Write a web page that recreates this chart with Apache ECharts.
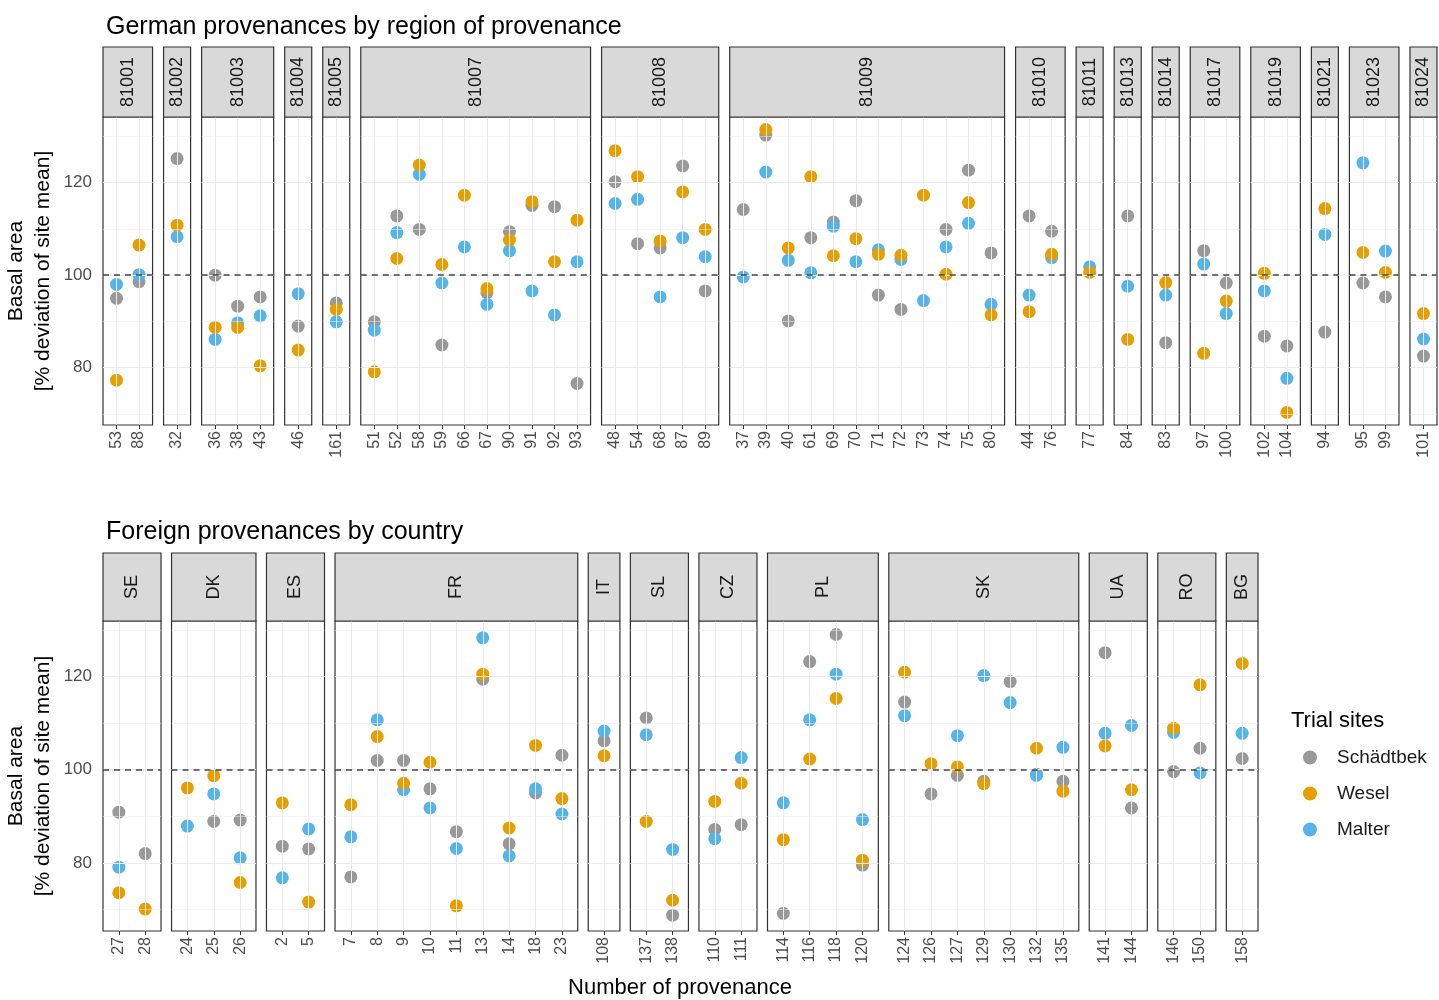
<!DOCTYPE html>
<html>
<head>
<meta charset="utf-8">
<title>Basal area by provenance</title>
<script src="https://cdn.jsdelivr.net/npm/echarts@6.0.0/dist/echarts.min.js"></script>
<style>
  html, body { margin: 0; padding: 0; background: #fff; }
  #chart { width: 1439px; height: 1000px; }
</style>
</head>
<body>
<div id="chart"></div>
<script>
// ---- data: German provenances (top) ----
const topFacets = ['81001', '81002', '81003', '81004', '81005', '81007', '81008', '81009', '81010',
  '81011', '81013', '81014', '81017', '81019', '81021', '81023', '81024'];
const topCats = [
  ['53', '88'], ['32'], ['36', '38', '43'], ['46'], ['161'],
  ['51', '52', '58', '59', '66', '67', '90', '91', '92', '93'],
  ['48', '54', '68', '87', '89'],
  ['37', '39', '40', '61', '69', '70', '71', '72', '73', '74', '75', '80'],
  ['44', '76'], ['77'], ['84'], ['83'], ['97', '100'], ['102', '104'], ['94'], ['95', '99'], ['101']
];
const topSchaedtbek = [
  [95.0, 98.6], [125.2], [100.0, 93.3, 95.3], [89.0], [94.0],
  [89.9, 112.8, 109.9, 84.9, null, 96.2, 109.4, 115.1, 114.8, 76.6],
  [120.2, 106.8, 105.9, 123.6, 96.6],
  [114.2, 130.3, 90.1, 108.1, 111.5, 116.1, 95.7, 92.6, null, 109.9, 122.7, 104.8],
  [112.8, 109.5], [null], [112.8], [85.4], [105.3, 98.3], [86.8, 84.7], [87.7], [98.3, 95.3], [82.5]
];
const topWesel = [
  [77.3, 106.5], [110.8], [88.7, 88.7, 80.4], [83.8], [92.6],
  [79.1, 103.6, 123.8, 102.3, 117.3, 97.1, 107.6, 115.9, 102.9, 111.9],
  [126.9, 121.3, 107.4, 118.0, 109.9],
  [null, 131.5, 105.9, 121.3, 104.2, 107.9, 104.5, 104.3, 117.3, 100.2, 115.7, 91.4],
  [92.1, 104.5], [100.6], [86.1], [98.4], [83.1, 94.4], [100.4, 70.3], [114.4], [104.9, 100.6], [91.7]
];
const topMalter = [
  [98.0, 100.1], [108.3], [86.1, 89.7, 91.2], [96.0], [89.9],
  [88.1, 109.2, 121.8, 98.3, 106.1, 93.7, 105.3, 96.6, 91.4, 102.9],
  [115.5, 116.4, 95.3, 108.1, 104.0],
  [99.6, 122.3, 103.2, 100.5, 110.6, 102.9, 105.5, 103.4, 94.5, 106.1, 111.2, 93.7],
  [95.7, 103.8], [101.8], [97.6], [95.7], [102.4, 91.7], [96.6, 77.7], [108.8], [124.3, 105.2], [86.2]
];

// ---- data: foreign provenances (bottom) ----
const botFacets = ['SE', 'DK', 'ES', 'FR', 'IT', 'SL', 'CZ', 'PL', 'SK', 'UA', 'RO', 'BG'];
const botCats = [
  ['27', '28'], ['24', '25', '26'], ['2', '5'],
  ['7', '8', '9', '10', '11', '13', '14', '18', '23'],
  ['108'], ['137', '138'], ['110', '111'], ['114', '116', '118', '120'],
  ['124', '126', '127', '129', '130', '132', '135'],
  ['141', '144'], ['146', '150'], ['158']
];
const botSchaedtbek = [
  [90.9, 82.0], [null, 88.9, 89.2], [83.6, 83.0],
  [77.0, 102.0, 102.0, 95.9, 86.7, 119.4, 84.1, 95.0, 103.1],
  [106.2], [111.1, 68.8], [87.2, 88.2], [69.2, 123.2, 129.0, 79.5],
  [114.5, 94.8, 98.8, 97.5, 118.9, 99.0, 97.5],
  [125.1, 91.8], [99.6, 104.6], [102.4]
];
const botWesel = [
  [73.6, 70.1], [96.1, 98.7, 75.8], [92.9, 71.6],
  [92.5, 107.1, 97.1, 101.6, 70.8, 120.5, 87.5, 105.2, 93.8],
  [103.0], [88.9, 72.0], [93.2, 97.1], [85.0, 102.3, 115.3, 80.6],
  [120.9, 101.3, 100.6, 97.0, null, 104.6, 95.4],
  [105.1, 95.7], [108.9, 118.2], [122.8]
];
const botMalter = [
  [79.1, null], [87.9, 94.8, 81.1], [76.8, 87.3],
  [85.6, 110.7, 95.7, 91.8, 83.1, 128.3, 81.5, 95.9, 90.5],
  [108.3], [107.5, 82.9], [85.2, 102.6], [92.9, 110.7, 120.5, 89.3],
  [111.6, null, 107.3, 120.2, 114.4, 98.8, 104.8],
  [107.8, 109.5], [108.0, 99.3], [107.8]
];

const siteNames = ['Schädtbek', 'Wesel', 'Malter'];
const yTicks = [80, 100, 120];
const yMinor = [70, 90, 110, 130];

// ---- styling ----
const FONT = '"Liberation Sans", Arial, sans-serif';
const siteColors = { 'Schädtbek': '#999999', 'Wesel': '#E69F00', 'Malter': '#56B4E9' };
const drawOrder = ['Schädtbek', 'Malter', 'Wesel'];

const chart = echarts.init(document.getElementById('chart'));

const option = {
  animation: false,
  backgroundColor: '#fff',
  textStyle: { fontFamily: FONT },
  title: [
    { text: 'German provenances by region of provenance', left: 101, top: 10,
      textStyle: { fontSize: 25, fontWeight: 'normal', color: '#000', fontFamily: FONT } },
    { text: 'Foreign provenances by country', left: 101, top: 515,
      textStyle: { fontSize: 25, fontWeight: 'normal', color: '#000', fontFamily: FONT } }
  ],
  legend: {
    data: siteNames,
    orient: 'vertical',
    left: 1298, top: 743,
    itemWidth: 14, itemHeight: 14, itemGap: 17,
    icon: 'circle',
    textStyle: { fontSize: 19, color: '#1A1A1A', fontFamily: FONT, padding: [0, 0, 0, 15] }
  },
  grid: [], xAxis: [], yAxis: [], series: [],
  graphic: [
    { type: 'text', left: 1291, top: 710,
      style: { text: 'Trial sites', fill: '#000', font: '22px ' + FONT } },
    { type: 'text', x: 680, y: 988,
      style: { text: 'Number of provenance', fill: '#000', font: '22px ' + FONT,
        textAlign: 'center', textVerticalAlign: 'middle' } }
  ]
};

function buildPanel(p) {
  const units = p.cats.map(c => c.length + 0.2);
  const step = (p.right - p.left - p.gap * (p.cats.length - 1)) / units.reduce((a, b) => a + b, 0);
  let x = p.left;
  p.cats.forEach((cats, f) => {
    const w = units[f] * step;
    const gi = option.grid.length;
    const idx = cats.map((c, i) => i);
    option.grid.push({
      left: x, top: p.plotTop, width: w, height: p.plotBottom - p.plotTop,
      show: true, borderColor: '#333', borderWidth: 1.2, backgroundColor: '#fff'
    });
    option.xAxis.push({
      type: 'value', gridIndex: gi, min: -0.6, max: cats.length - 0.4,
      axisLine: { show: false },
      splitLine: { show: false },
      axisTick: { show: true, customValues: idx, length: 4, lineStyle: { color: '#333' } },
      axisLabel: {
        show: true, customValues: idx, rotate: 90, margin: 6,
        fontSize: 16, color: '#4D4D4D', fontFamily: FONT,
        formatter: v => cats[Math.round(v)]
      }
    });
    const first = f === 0;
    option.yAxis.push({
      type: 'value', gridIndex: gi, min: p.yMin, max: p.yMax,
      axisLine: { show: false },
      splitLine: { show: false },
      axisTick: { show: first, customValues: yTicks, length: 4, lineStyle: { color: '#333' } },
      axisLabel: { show: first, customValues: yTicks, fontSize: 17, color: '#4D4D4D', margin: 11, fontFamily: FONT },
      name: first ? 'Basal area\n[% deviation of site mean]' : '',
      nameLocation: 'middle', nameRotate: 90, nameGap: 46,
      nameTextStyle: { fontSize: 21, lineHeight: 27, color: '#000', fontFamily: FONT }
    });
    // panel grid lines
    option.series.push({
      type: 'scatter', xAxisIndex: gi, yAxisIndex: gi, data: [], z: 1, silent: true,
      markLine: {
        silent: true, symbol: ['none', 'none'], label: { show: false },
        lineStyle: { color: '#EBEBEB', width: 1, type: 'solid' },
        data: idx.map(i => ({ xAxis: i }))
          .concat(yTicks.map(v => ({ yAxis: v })))
          .concat(yMinor.filter(v => v > p.yMin && v < p.yMax)
            .map(v => ({ yAxis: v, lineStyle: { color: '#EBEBEB', width: 0.5, type: 'solid' } })))
      }
    });
    // points
    drawOrder.forEach(site => {
      const vals = p.values[site][f];
      option.series.push({
        type: 'scatter', name: site, xAxisIndex: gi, yAxisIndex: gi, z: 2,
        symbol: 'circle', symbolSize: 13,
        itemStyle: { color: siteColors[site], opacity: 1 },
        data: vals.map((v, i) => [i, v]).filter(d => d[1] !== null)
      });
    });
    // dashed reference line at 100
    option.series.push({
      type: 'scatter', xAxisIndex: gi, yAxisIndex: gi, data: [], z: 3, silent: true,
      markLine: {
        silent: true, symbol: ['none', 'none'], label: { show: false },
        lineStyle: { color: '#444', width: 1.6, type: [6, 5] },
        data: [{ yAxis: 100 }]
      }
    });
    // facet strip
    option.graphic.push({
      type: 'rect', z: 10,
      shape: { x: x, y: p.stripTop, width: w, height: p.plotTop - p.stripTop },
      style: { fill: '#D9D9D9', stroke: '#333', lineWidth: 1.2 }
    });
    option.graphic.push({
      type: 'text', z: 11, x: x + w / 2, y: (p.stripTop + p.plotTop) / 2, rotation: Math.PI / 2,
      style: { text: p.facets[f], fill: '#1A1A1A', font: '18px ' + FONT,
        textAlign: 'center', textVerticalAlign: 'middle' }
    });
    x += w + p.gap;
  });
}

buildPanel({
  facets: topFacets, cats: topCats,
  values: { 'Schädtbek': topSchaedtbek, 'Wesel': topWesel, 'Malter': topMalter },
  left: 103, right: 1437, gap: 11,
  stripTop: 47, plotTop: 117, plotBottom: 425, yMin: 67.6, yMax: 134.2
});
buildPanel({
  facets: botFacets, cats: botCats,
  values: { 'Schädtbek': botSchaedtbek, 'Wesel': botWesel, 'Malter': botMalter },
  left: 103, right: 1258, gap: 10.5,
  stripTop: 553, plotTop: 621, plotBottom: 931, yMin: 65.4, yMax: 131.9
});

chart.setOption(option);
</script>
</body>
</html>
